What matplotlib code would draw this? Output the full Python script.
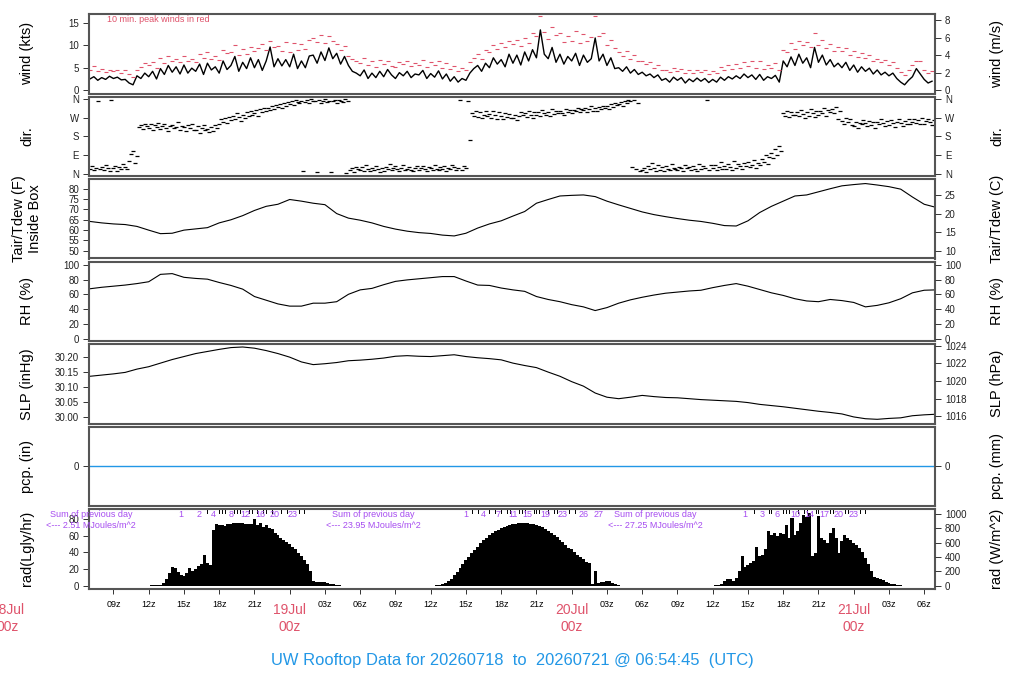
import numpy as np
import matplotlib
matplotlib.use('Agg')
import matplotlib.pyplot as plt

plt.rcParams['font.family'] = ['Liberation Sans', 'DejaVu Sans']

# x axis is hours since 18Jul 00z
t_start = 6.92
t_end = 78.92
date_labels = ['18Jul', '19Jul', '20Jul', '21Jul']

# wind speed, 20 min samples from 07z 18Jul (kts)
wind_kts = [
    2.5, 3.0, 2.2, 2.8, 2.4, 3.1, 2.6, 2.9, 2.3, 2.4, 1.6, 1.2,
    3.2, 2.6, 3.8, 3.0, 4.2, 2.5, 4.8, 3.5, 5.5, 4.0, 5.2, 3.6,
    5.6, 3.8, 4.9, 4.2, 5.8, 3.5, 6.0, 4.5, 5.2, 3.8, 6.5, 4.6,
    5.5, 7.5, 4.2, 6.2, 4.8, 7.2, 5.0, 6.8, 4.4, 6.5, 9.6, 5.2,
    7.0, 5.4, 6.8, 5.2, 8.0, 4.8, 6.5, 5.0, 7.6, 7.8, 6.0, 8.5,
    6.6, 9.4, 7.0, 8.2, 5.8, 7.5, 5.5, 4.2, 3.8, 3.2, 4.5, 2.6,
    3.8, 2.8, 4.2, 3.0, 4.6, 3.4, 2.6, 3.9, 3.2, 4.2, 2.8, 3.6,
    3.4, 4.4, 2.6, 3.7, 2.9, 4.3, 2.5, 3.6, 2.0, 3.0, 1.8, 2.6,
    2.2, 3.8, 4.8, 5.5, 4.2, 6.0, 5.0, 7.2, 5.8, 6.8, 5.2, 8.0,
    6.0, 7.8, 5.6, 8.5, 6.5, 9.0, 7.2, 13.4, 8.0, 7.0, 9.5, 6.2,
    8.0, 5.8, 7.5, 6.5, 8.2, 5.5, 7.8, 6.2, 7.0, 11.6, 6.5, 8.0,
    5.5, 7.2, 4.8, 5.0, 4.2, 5.2, 3.8, 4.6, 3.5, 4.0, 3.2, 3.6,
    2.8, 3.4, 2.2, 2.6, 1.8, 2.9, 2.2, 2.8, 1.6, 2.5, 1.9, 2.7,
    2.0, 2.6, 1.7, 2.4, 1.8, 2.9, 2.2, 3.0, 2.5, 3.2, 2.6, 3.6,
    2.8, 3.4, 2.4, 3.5, 2.2, 3.0, 2.6, 3.3, 1.8, 6.5, 5.2, 7.4,
    5.5, 8.0, 6.0, 7.2, 5.0, 9.5, 6.2, 7.8, 5.6, 6.8, 5.2, 6.0,
    5.0, 6.2, 4.4, 5.6, 4.0, 5.2, 4.2, 4.9, 3.6, 4.5, 3.4, 4.0,
    3.2, 3.8, 2.6, 1.8, 1.2, 2.2, 3.0, 4.8, 3.6, 2.4, 1.6, 2.0,
]

# 10 min peak winds on the same 20 min grid (kts)
peak_kts = [
    4.6, 5.4, 4.2, 4.8, 4.0, 4.5, 4.2, 4.6, 3.8, 4.4, 3.5, 3.0,
    4.6, 5.2, 6.0, 5.5, 6.2, 5.0, 7.2, 6.0, 7.5, 6.5, 7.0, 6.2,
    7.5, 6.6, 7.0, 6.2, 8.0, 7.2, 8.4, 7.0, 7.6, 6.8, 9.0, 8.2,
    8.5, 10.0, 7.8, 9.2, 8.0, 9.6, 8.6, 9.4, 10.2, 9.0, 11.0, 9.5,
    9.8, 8.8, 10.6, 8.5, 10.4, 9.0, 10.2, 9.2, 11.2, 11.5, 10.6, 12.3,
    10.5, 12.0, 11.0, 10.2, 9.0, 9.8, 7.6, 7.0, 6.5, 6.0, 7.2, 5.6,
    6.4, 5.2, 6.8, 5.8, 6.6, 5.4, 5.2, 6.2, 5.8, 6.6, 5.4, 6.0,
    5.6, 6.8, 5.2, 6.2, 5.6, 6.4, 5.0, 6.0, 4.8, 5.4, 4.2, 5.0,
    4.6, 6.2, 7.2, 8.0, 7.0, 9.0, 8.4, 10.0, 9.2, 10.5, 9.6, 11.0,
    10.2, 11.2, 9.8, 11.6, 10.4, 12.6, 12.0, 16.4, 13.0, 11.4, 14.0, 12.2,
    12.8, 10.6, 12.0, 11.0, 13.2, 10.4, 12.4, 11.0, 11.8, 16.5, 12.0, 12.6,
    10.0, 11.2, 9.4, 8.4, 7.6, 8.8, 7.0, 7.8, 6.4, 6.6, 5.8, 6.2,
    5.0, 5.6, 4.6, 4.6, 4.0, 5.0, 4.2, 4.8, 3.8, 4.4, 3.9, 4.6,
    4.0, 4.5, 3.6, 4.2, 3.8, 5.2, 4.6, 5.6, 4.8, 5.8, 5.0, 6.2,
    5.4, 6.6, 5.0, 6.4, 4.8, 5.6, 5.0, 6.0, 4.4, 9.0, 8.4, 10.4,
    9.2, 11.0, 10.0, 10.8, 9.6, 12.6, 10.0, 11.2, 9.4, 10.2, 8.8, 9.6,
    8.6, 9.4, 7.8, 8.8, 7.4, 8.2, 7.2, 7.8, 6.6, 7.0, 6.2, 6.8,
    5.6, 6.2, 5.0, 4.0, 3.4, 4.4, 5.6, 6.4, 6.4, 4.6, 3.8, 4.2,
]

# wind direction, 10 min samples from 07z 18Jul (deg)
wind_dir = [
    20, 35, 15, 28, 350, 22, 30, 18, 40, 25, 12, 355,
    25, 38, 14, 30, 22, 45, 30, 20, 60, 95, 110, 50,
    85, 225, 235, 215, 240, 228, 220, 238, 210, 232, 225, 245,
    215, 228, 240, 222, 205, 230, 235, 218, 226, 248, 212, 230,
    224, 205, 232, 218, 240, 212, 210, 228, 198, 222, 235, 208,
    215, 200, 225, 205, 232, 218, 240, 262, 250, 268, 245, 275,
    258, 280, 265, 290, 272, 255, 285, 270, 295, 278, 300, 282,
    290, 305, 280, 310, 296, 315, 300, 318, 308, 325, 312, 330,
    322, 335, 318, 340, 328, 345, 338, 350, 332, 355, 345, 340,
    350, 10, 345, 355, 340, 358, 352, 348, 5, 356, 342, 350,
    358, 345, 352, 8, 348, 355, 340, 355, 350, 345, 358, 2,
    352, 15, 25, 8, 32, 20, 18, 30, 10, 40, 22, 12,
    28, 15, 35, 20, 8, 25, 12, 30, 22, 45, 18, 26,
    35, 20, 10, 28, 40, 15, 22, 32, 18, 10, 28, 38,
    15, 26, 35, 20, 12, 30, 28, 18, 40, 24, 15, 32,
    20, 35, 12, 28, 22, 42, 30, 18, 26, 355, 15, 38,
    25, 350, 160, 290, 280, 300, 275, 295, 268, 285, 300, 278,
    288, 270, 300, 282, 265, 295, 280, 262, 292, 275, 288, 268,
    270, 285, 260, 278, 295, 282, 290, 275, 300, 285, 268, 295,
    282, 298, 276, 305, 290, 285, 295, 280, 310, 288, 300, 292,
    300, 290, 285, 312, 296, 305, 292, 308, 300, 315, 298, 310,
    305, 318, 296, 312, 325, 300, 315, 300, 322, 310, 328, 318,
    325, 312, 335, 320, 340, 330, 335, 345, 328, 350, 340, 355,
    348, 30, 355, 20, 342, 12, 15, 28, 8, 35, 20, 50,
    25, 12, 40, 18, 30, 10, 35, 20, 15, 45, 28, 22,
    18, 32, 25, 10, 40, 28, 30, 15, 38, 22, 12, 45,
    20, 35, 28, 355, 18, 40, 25, 42, 15, 30, 55, 20,
    38, 22, 48, 30, 15, 60, 28, 45, 35, 20, 52, 38,
    55, 30, 42, 65, 25, 50, 40, 70, 55, 90, 45, 80,
    100, 75, 120, 90, 135, 110, 290, 280, 300, 275, 295, 285,
    282, 298, 278, 305, 288, 270, 295, 280, 310, 290, 275, 300,
    285, 300, 292, 315, 280, 305, 298, 310, 290, 320, 265, 300,
    255, 240, 270, 248, 262, 235, 230, 250, 222, 245, 238, 258,
    242, 228, 255, 235, 248, 220, 250, 238, 262, 245, 230, 255,
    235, 258, 242, 225, 250, 265, 245, 230, 255, 240, 262, 238,
    250, 265, 242, 258, 238, 270, 240, 255, 262, 248, 232, 258,
]

# hourly values from 07z 18Jul to 07z 21Jul
temp_f = [
    64.2, 63.5, 63.0, 62.7, 61.8, 60.0, 58.3, 58.5, 60.0, 60.6,
    61.2, 63.5, 65.0, 67.0, 69.5, 71.5, 72.5, 74.8, 74.0, 73.0,
    72.3, 68.0, 65.8, 64.8, 63.5, 61.8, 60.5, 59.5, 58.8, 58.4,
    57.6, 57.2, 58.5, 61.0, 63.0, 64.5, 66.8, 69.0, 73.0, 74.8,
    76.5, 76.8, 77.0, 76.2, 74.0, 72.2, 70.5, 68.8, 67.5, 66.5,
    65.6, 64.8, 64.2, 63.3, 62.2, 62.0, 64.5, 68.5, 71.5, 74.0,
    76.5, 77.0, 78.5, 80.0, 81.4, 82.0, 82.5, 81.8, 81.0, 79.8,
    76.0, 72.5, 71.0,
]
rh_pct = [
    67.5, 69.5, 71, 72.5, 74.5, 77, 87, 88, 83, 81.5,
    80.5, 76, 72, 67, 57, 52, 47, 44, 44, 48,
    48, 50, 60, 66, 68, 73, 77.5, 79.5, 81, 82.5,
    84, 84, 78, 72.5, 72, 68.5, 66, 64, 57, 53,
    50, 46, 43, 38, 42, 48, 52.5, 56, 59, 61.5,
    63, 64.5, 65.5, 69, 72, 74.5, 71, 66.5, 62, 58.5,
    54, 51, 50, 53, 51.5, 49, 43, 45, 48.5, 54,
    62, 65.5, 66,
]
slp_inhg = [
    30.136, 30.140, 30.144, 30.149, 30.160, 30.168, 30.180, 30.192, 30.202, 30.212,
    30.219, 30.226, 30.232, 30.234, 30.230, 30.222, 30.212, 30.200, 30.184, 30.175,
    30.178, 30.182, 30.188, 30.190, 30.193, 30.197, 30.203, 30.205, 30.203, 30.202,
    30.205, 30.208, 30.202, 30.198, 30.195, 30.191, 30.180, 30.172, 30.165, 30.150,
    30.136, 30.118, 30.103, 30.080, 30.066, 30.061, 30.066, 30.072, 30.068, 30.065,
    30.064, 30.061, 30.058, 30.056, 30.054, 30.052, 30.048, 30.042, 30.038, 30.034,
    30.029, 30.024, 30.019, 30.015, 30.010, 30.000, 29.994, 29.992, 29.995, 29.997,
    30.004, 30.007, 30.009,
]

# solar radiation, W/m^2 every 15 min, one list per day
rad1_start = 12.0
rad1 = [
    0, 3, 6, 10, 14, 40, 90, 180, 260, 240, 190, 150, 135, 175, 240, 205,
    225, 270, 300, 430, 310, 290, 780, 860, 845, 850, 835, 855, 860, 870,
    875, 872, 870, 865, 860, 855, 930, 850, 870, 820, 845, 800, 790, 735,
    700, 670, 640, 605, 575, 540, 505, 460, 410, 360, 300, 200, 60, 48,
    45, 50, 55, 42, 25, 15, 8, 4, 0,
]
rad2_start = 36.25
rad2 = [
    0, 3, 8, 15, 30, 60, 95, 140, 190, 245, 300, 355, 405, 455, 500, 545,
    590, 630, 665, 700, 730, 757, 780, 800, 818, 833, 846, 856, 864, 870,
    874, 874, 872, 866, 858, 846, 832, 815, 793, 768, 740, 708, 675, 640,
    603, 565, 525, 510, 470, 430, 405, 370, 335, 310, 20, 200, 30, 45,
    55, 62, 58, 40, 25, 10, 0,
]
rad3_start = 60.0
rad3 = [
    0, 5, 10, 18, 60, 95, 85, 60, 110, 200, 410, 260, 280, 320, 345, 545,
    410, 430, 505, 760, 700, 735, 690, 740, 720, 850, 665, 940, 700, 760,
    875, 990, 960, 1015, 410, 460, 965, 665, 630, 595, 735, 800, 665, 455,
    620, 710, 660, 640, 600, 560, 520, 470, 380, 300, 200, 120, 105, 95,
    75, 55, 40, 28, 16, 8, 3, 0,
]
# printed daily totals (MJ/m^2) of the day before each one
day_sums = ['2.51', '23.95', '27.25']

red = '#DF536B'
blue = '#2297E6'
purple = '#A64CF0'
W, H = 1024.0, 700.0
fig = plt.figure(figsize=(10.24, 7.0), dpi=100)


def panel(i, ylim, ticks, labels=None):
    top = 14 + 82.5 * i
    ax = fig.add_axes([89 / W, 1 - (top + 79.5) / H, 846 / W, 79.5 / H])
    ax.set_xlim(t_start, t_end)
    ax.set_ylim(*ylim)
    ax.set_xticks([])
    ax.set_yticks(ticks)
    if labels is not None:
        ax.set_yticklabels(labels)
    ax.tick_params(axis='y', direction='out', length=4.3, width=0.7, pad=2.8,
                   labelsize=7, color='#333333', labelcolor='#222222')
    for s in ax.spines.values():
        s.set_color('#555555')
        s.set_linewidth(1.5)
    return ax


def right_axis(ax, conv, ticks, labels=None):
    ax2 = ax.twinx()
    lo, hi = ax.get_ylim()
    ax2.set_ylim(conv(lo), conv(hi))
    ax2.set_yticks(ticks)
    if labels is not None:
        ax2.set_yticklabels(labels)
    ax2.tick_params(axis='y', direction='out', length=4.3, width=0.7, pad=2.8,
                    labelsize=7, color='#333333', labelcolor='#222222')
    for s in ax2.spines.values():
        s.set_visible(False)
    return ax2


def ylabels(i, left, right):
    yc = 1 - (14 + 82.5 * i + 39.75) / H
    fig.text(27 / W, yc, left, rotation=90, ha='center', va='center', fontsize=10.5)
    fig.text(997 / W, yc, right, rotation=90, ha='center', va='center', fontsize=10.5)


t_wind = 7.0 + np.arange(len(wind_kts)) / 3.0
t_dir = 7.0 + np.arange(len(wind_dir)) / 6.0
t_hr = 7.0 + np.arange(len(temp_f))

# wind
ax = panel(0, (-0.73, 16.93), [0, 5, 10, 15])
ax.plot(t_wind, wind_kts, color='black', lw=1.0)
ax.plot(t_wind, peak_kts, ls='none', marker='_', ms=3.5, mew=0.8, color=red)
ax.text(0.021, 0.935, '10 min. peak winds in red', transform=ax.transAxes,
        fontsize=6.5, color=red, va='center')
right_axis(ax, lambda v: v * 0.51444, [0, 2, 4, 6, 8])
ylabels(0, 'wind (kts)', 'wind (m/s)')

# direction
ax = panel(1, (-12, 372), [0, 90, 180, 270, 360], ['N', 'E', 'S', 'W', 'N'])
ax.plot(t_dir, wind_dir, ls='none', marker='_', ms=3, mew=0.9, color='black')
right_axis(ax, lambda v: v, [0, 90, 180, 270, 360], ['N', 'E', 'S', 'W', 'N'])
ylabels(1, 'dir.', 'dir.')

# temperature
ax = panel(2, (46.3, 84.7), [50, 55, 60, 65, 70, 75, 80])
ax.plot(t_hr, temp_f, color='black', lw=0.8)
right_axis(ax, lambda v: (v - 32) * 5 / 9.0, [10, 15, 20, 25])
ylabels(2, 'Tair/Tdew (F)\nInside Box', 'Tair/Tdew (C)')

# relative humidity
ax = panel(3, (-3.2, 104.4), [0, 20, 40, 60, 80, 100])
ax.plot(t_hr, rh_pct, color='black', lw=0.8)
right_axis(ax, lambda v: v, [0, 20, 40, 60, 80, 100])
ylabels(3, 'RH (%)', 'RH (%)')

# pressure
ax = panel(4, (29.978, 30.244), [30.00, 30.05, 30.10, 30.15, 30.20],
           ['30.00', '30.05', '30.10', '30.15', '30.20'])
ax.plot(t_hr, slp_inhg, color='black', lw=0.8)
right_axis(ax, lambda v: v * 33.8639, [1016, 1018, 1020, 1022, 1024])
ylabels(4, 'SLP (inHg)', 'SLP (hPa)')

# precipitation
ax = panel(5, (-1, 1), [0])
ax.axhline(0, color=blue, lw=1)
right_axis(ax, lambda v: v * 25.4, [0])
ylabels(5, 'pcp. (in)', 'pcp. (mm)')

# radiation
lgly = 11.622
ax = panel(6, (-3.6, 92), [0, 20, 40, 60, 80])
rad_days = [(rad1_start, rad1), (rad2_start, rad2), (rad3_start, rad3)]
for start, vals in rad_days:
    tt = start + 0.25 * np.arange(len(vals))
    ax.bar(tt, np.array(vals) / lgly, width=0.26, color='black', linewidth=0)
    cum = np.cumsum(np.array(vals) * 900.0) / 1e6
    last = -99
    for k in range(1, int(cum[-1]) + 1):
        tk = tt[np.searchsorted(cum, k)]
        if tk - last >= 1.25:
            ax.text(tk, 0.925, str(k), transform=ax.get_xaxis_transform(),
                    ha='center', va='center', fontsize=6.5, color=purple)
            last = tk
        else:
            ax.plot([tk, tk], [0.95, 1.0], transform=ax.get_xaxis_transform(),
                    color='black', lw=0.7)
for k, s in enumerate(day_sums):
    xs = 24 * k + 7.1
    ax.text(xs, 0.925, 'Sum of previous day', transform=ax.get_xaxis_transform(),
            ha='center', va='center', fontsize=6.5, color=purple)
    ax.text(xs, 0.79, '<--- %s MJoules/m^2' % s, transform=ax.get_xaxis_transform(),
            ha='center', va='center', fontsize=6.5, color=purple)
right_axis(ax, lambda v: v * lgly, [0, 200, 400, 600, 800, 1000])
ylabels(6, 'rad(Lgly/hr)', 'rad (W/m^2)')

hrs = np.arange(9, 79, 3)
ax.set_xticks(hrs)
ax.set_xticklabels(['' if h % 24 == 0 else '%02dz' % (h % 24) for h in hrs])
ax.tick_params(axis='x', direction='out', length=3.6, width=0.7, pad=4.5,
               labelsize=6.5, color='#333333')
for k, lab in enumerate(date_labels):
    ax.text(24 * k, -0.265, lab, transform=ax.get_xaxis_transform(),
            ha='center', va='center', fontsize=10, color=red)
    ax.text(24 * k, -0.49, '00z', transform=ax.get_xaxis_transform(),
            ha='center', va='center', fontsize=10, color=red)

fig.text(0.5, 1 - 660 / H, 'UW Rooftop Data for 20260718  to  20260721 @ 06:54:45  (UTC)',
         ha='center', va='center', fontsize=11.9, color=blue)

fig.savefig('out.png', dpi=100)
